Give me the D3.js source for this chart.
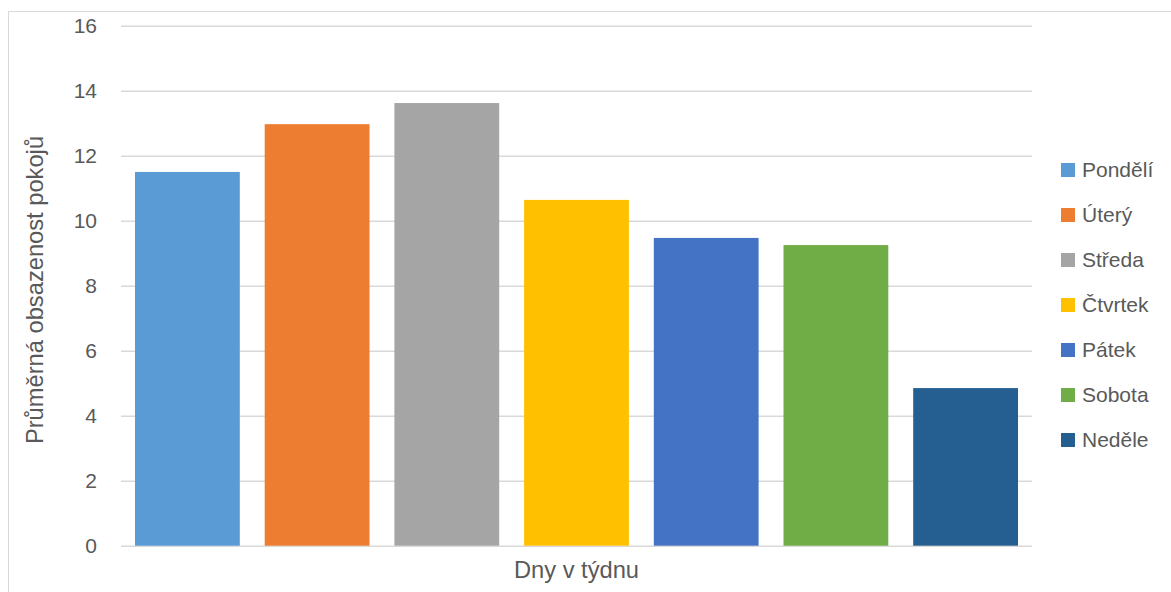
<!DOCTYPE html>
<html>
<head>
<meta charset="utf-8">
<script src="https://cdn.jsdelivr.net/npm/d3@7"></script>
<style>
  html, body { margin: 0; padding: 0; background: #fff; }
  svg { display: block; }
  text { font-family: "Liberation Sans", Arial, sans-serif; fill: #595959; }
</style>
</head>
<body>
<svg id="chart" width="1171" height="592"></svg>
<script>
// Average room occupancy by day of the week
const days = ["Pondělí", "Úterý", "Středa", "Čtvrtek", "Pátek", "Sobota", "Neděle"];
const occupancy = [11.5, 12.97, 13.62, 10.64, 9.47, 9.25, 4.85];
const dayColors = ["#5B9BD5", "#ED7D31", "#A5A5A5", "#FFC000", "#4472C4", "#70AD47", "#255E91"];
const yTicks = [0, 2, 4, 6, 8, 10, 12, 14, 16];
const xTitle = "Dny v týdnu";
const yTitle = "Průměrná obsazenost pokojů";

const svg = d3.select("#chart");

// chart frame
svg.append("rect")
  .attr("x", 8.5).attr("y", 11.5)
  .attr("width", 1300).attr("height", 800)
  .attr("fill", "#fff")
  .attr("stroke", "#d9d9d9").attr("stroke-width", 1);

const plot = { left: 121, right: 1032, top: 25.7, bottom: 545.7 };

const x = d3.scaleBand()
  .domain(days)
  .range([plot.left, plot.right])
  .paddingInner(0.192)
  .paddingOuter(0.108);

const y = d3.scaleLinear()
  .domain([0, 16])
  .range([plot.bottom, plot.top]);

// gridlines + tick labels via axis
const yAxis = d3.axisLeft(y)
  .tickValues(yTicks)
  .tickSize(-(plot.right - plot.left))
  .tickPadding(24)
  .tickFormat(d3.format("d"));

const gy = svg.append("g")
  .attr("transform", `translate(${plot.left},0)`)
  .call(yAxis);
gy.select(".domain").remove();
gy.selectAll(".tick line")
  .attr("stroke", "#d9d9d9")
  .attr("stroke-width", 1.4);
gy.selectAll(".tick text")
  .attr("font-size", 21)
  .attr("fill", "#595959")
  .style("font-family", '"Liberation Sans", Arial, sans-serif');

// bars
svg.append("g")
  .selectAll("rect")
  .data(days)
  .join("rect")
  .attr("x", d => x(d))
  .attr("y", (d, i) => y(occupancy[i]))
  .attr("width", x.bandwidth())
  .attr("height", (d, i) => y(0) - y(occupancy[i]))
  .attr("fill", (d, i) => dayColors[i]);

// axis titles
svg.append("text")
  .attr("x", (plot.left + plot.right) / 2)
  .attr("y", 578)
  .attr("text-anchor", "middle")
  .attr("font-size", 23.7)
  .text(xTitle);

svg.append("text")
  .attr("transform", "translate(43,290) rotate(-90)")
  .attr("text-anchor", "middle")
  .attr("font-size", 23.7)
  .text(yTitle);

// legend
const legend = svg.append("g");
const rows = legend.selectAll("g")
  .data(days)
  .join("g")
  .attr("transform", (d, i) => `translate(1061,${170 + i * 45})`);
rows.append("rect")
  .attr("x", 0).attr("y", -7)
  .attr("width", 14).attr("height", 14)
  .attr("fill", (d, i) => dayColors[i]);
rows.append("text")
  .attr("x", 21)
  .attr("y", 0)
  .attr("dy", "0.35em")
  .attr("font-size", 21)
  .text(d => d);
</script>
</body>
</html>
